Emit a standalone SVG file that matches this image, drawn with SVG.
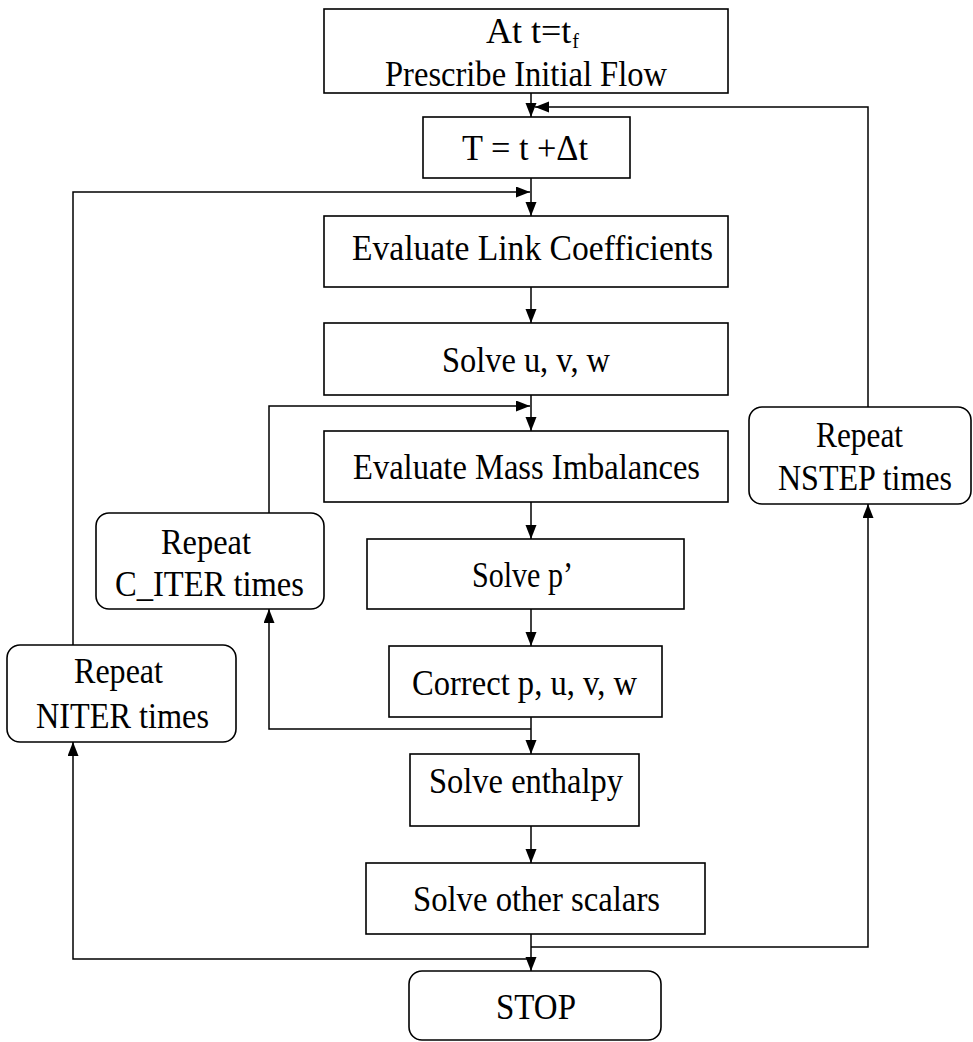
<svg xmlns="http://www.w3.org/2000/svg" width="973" height="1042" viewBox="0 0 973 1042">
<style>
.box{fill:#fff;stroke:#000;stroke-width:1.6}
.ln{fill:none;stroke:#000;stroke-width:1.5}
.t{font-family:"Liberation Serif","Times New Roman",serif;font-size:36px;fill:#000}
.sub{font-size:20px}
</style>
<defs>
<marker id="ah" markerUnits="userSpaceOnUse" markerWidth="15" markerHeight="12" refX="14" refY="5.5" orient="auto">
<path d="M0,0 L14,5.5 L0,11 z" fill="#000"/>
</marker>
</defs>
<rect width="973" height="1042" fill="#fff"/>
<g id="connectors">
<path class="ln" d="M531,93 V117" marker-end="url(#ah)"/>
<path class="ln" d="M531,178 V216" marker-end="url(#ah)"/>
<path class="ln" d="M531,287 V323" marker-end="url(#ah)"/>
<path class="ln" d="M531,395 V431" marker-end="url(#ah)"/>
<path class="ln" d="M531,502 V539" marker-end="url(#ah)"/>
<path class="ln" d="M531,609 V646" marker-end="url(#ah)"/>
<path class="ln" d="M531,717 V754" marker-end="url(#ah)"/>
<path class="ln" d="M531,826 V863" marker-end="url(#ah)"/>
<path class="ln" d="M531,934 V971" marker-end="url(#ah)"/>
<path class="ln" d="M531,947 H868 V504" marker-end="url(#ah)"/>
<path class="ln" d="M868,407 V107 H535" marker-end="url(#ah)"/>
<path class="ln" d="M531,959 H73 V742" marker-end="url(#ah)"/>
<path class="ln" d="M73,645 V192 H530" marker-end="url(#ah)"/>
<path class="ln" d="M531,729 H269 V609" marker-end="url(#ah)"/>
<path class="ln" d="M269,513 V406 H530" marker-end="url(#ah)"/>
</g>
<g id="n-start">
<rect class="box" x="324" y="9" width="404" height="84"/>
<text class="t" x="486" y="43">At t=t<tspan class="sub" dx="1" dy="5">f</tspan></text>
<text class="t" x="385" y="86" textLength="282" lengthAdjust="spacingAndGlyphs">Prescribe Initial Flow</text>
</g>
<g id="n-time">
<rect class="box" x="423" y="117" width="207" height="61"/>
<text class="t" x="462" y="160" textLength="126" lengthAdjust="spacingAndGlyphs">T = t +Δt</text>
</g>
<g id="n-link">
<rect class="box" x="324" y="216" width="404" height="71"/>
<text class="t" x="352" y="260" textLength="361" lengthAdjust="spacingAndGlyphs">Evaluate Link Coefficients</text>
</g>
<g id="n-uvw">
<rect class="box" x="324" y="323" width="404" height="72"/>
<text class="t" x="442" y="372" textLength="168" lengthAdjust="spacingAndGlyphs">Solve u, v, w</text>
</g>
<g id="n-mass">
<rect class="box" x="324" y="431" width="404" height="71"/>
<text class="t" x="353" y="479" textLength="347" lengthAdjust="spacingAndGlyphs">Evaluate Mass Imbalances</text>
</g>
<g id="n-pprime">
<rect class="box" x="367" y="539" width="317" height="70"/>
<text class="t" x="472" y="587" textLength="101" lengthAdjust="spacingAndGlyphs">Solve p’</text>
</g>
<g id="n-correct">
<rect class="box" x="389" y="646" width="273" height="71"/>
<text class="t" x="412" y="695" textLength="225" lengthAdjust="spacingAndGlyphs">Correct p, u, v, w</text>
</g>
<g id="n-enthalpy">
<rect class="box" x="410" y="754" width="229" height="72"/>
<text class="t" x="429" y="793" textLength="194" lengthAdjust="spacingAndGlyphs">Solve enthalpy</text>
</g>
<g id="n-scalars">
<rect class="box" x="366" y="863" width="339" height="71"/>
<text class="t" x="413" y="911" textLength="247" lengthAdjust="spacingAndGlyphs">Solve other scalars</text>
</g>
<g id="n-stop">
<rect class="box" x="409" y="971" width="252" height="69" rx="13"/>
<text class="t" x="496" y="1019" textLength="80" lengthAdjust="spacingAndGlyphs">STOP</text>
</g>
<g id="n-citer">
<rect class="box" x="96" y="513" width="228" height="96" rx="13"/>
<text class="t" x="161" y="554" textLength="90" lengthAdjust="spacingAndGlyphs">Repeat</text>
<text class="t" x="115" y="596" textLength="189" lengthAdjust="spacingAndGlyphs">C_ITER times</text>
</g>
<g id="n-niter">
<rect class="box" x="7" y="645" width="229" height="97" rx="13"/>
<text class="t" x="74" y="683" textLength="89" lengthAdjust="spacingAndGlyphs">Repeat</text>
<text class="t" x="36" y="728" textLength="173" lengthAdjust="spacingAndGlyphs">NITER times</text>
</g>
<g id="n-nstep">
<rect class="box" x="749" y="407" width="222" height="97" rx="13"/>
<text class="t" x="816" y="447" textLength="87" lengthAdjust="spacingAndGlyphs">Repeat</text>
<text class="t" x="778" y="490" textLength="174" lengthAdjust="spacingAndGlyphs">NSTEP times</text>
</g>
</svg>
